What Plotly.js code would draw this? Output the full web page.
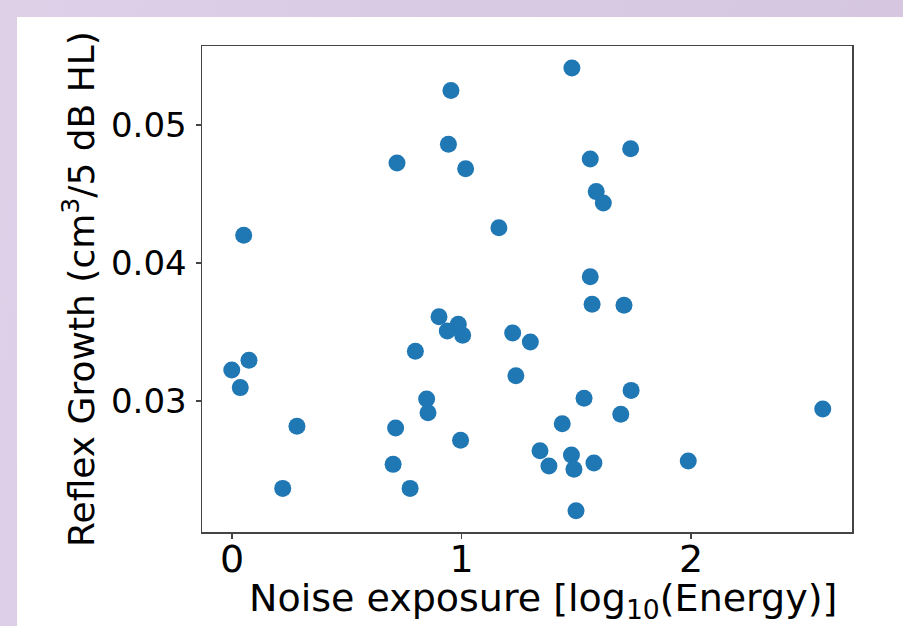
<!DOCTYPE html>
<html>
<head>
<meta charset="utf-8">
<script src="https://cdn.plot.ly/plotly-3.0.1.min.js"></script>
<style>
  html, body { margin: 0; padding: 0; width: 903px; height: 626px; overflow: hidden; }
  body { background: linear-gradient(100deg, #ddd0e7 0%, #d9cae3 50%, #d5c5df 100%); position: relative; }
  #plot { position: absolute; left: 17px; top: 17px; width: 886px; height: 609px; background: #ffffff; }
</style>
</head>
<body>
<div id="plot"></div>
<script>
// Noise exposure [log10(Energy)]
const noiseExposure = [
  0.954, 0.943, 0.719, 1.018, 1.163, 0.051,
  1.481, 1.561, 1.737, 1.587, 1.618, 1.561,
  0.902, 0.986, 0.938, 1.005, 1.223, 1.300, 0.799, 0.074, -0.001, 0.036,
  1.237, 0.848, 0.854, 0.283, 0.713, 0.996, 0.702, 0.221, 0.776,
  1.569, 1.708, 1.534, 1.739, 1.694, 1.439, 1.342, 1.479, 1.381, 1.490,
  1.577, 1.988, 2.574, 1.499
];
// Reflex Growth (cm^3 / 5 dB HL)
const reflexGrowth = [
  0.05249, 0.04860, 0.04725, 0.04683, 0.04256, 0.04201,
  0.05413, 0.04754, 0.04828, 0.04517, 0.04435, 0.03901,
  0.03611, 0.03556, 0.03507, 0.03476, 0.03493, 0.03428, 0.03360, 0.03295, 0.03225, 0.03097,
  0.03183, 0.03014, 0.02915, 0.02817, 0.02804, 0.02715, 0.02541, 0.02367, 0.02367,
  0.03701, 0.03693, 0.03020, 0.03077, 0.02904, 0.02836, 0.02640, 0.02609, 0.02529, 0.02505,
  0.02551, 0.02565, 0.02942, 0.02205
];
const xTickVals = [0, 1, 2];
const xTickText = ['0', '1', '2'];
const yTickVals = [0.03, 0.04, 0.05];
const yTickText = ['0.03', '0.04', '0.05'];
const xTitle = 'Noise exposure [log<sub>10</sub>(Energy)]';
const yTitle = 'Reflex Growth (cm<sup>3</sup>/5 dB HL)';

const trace = {
  x: noiseExposure,
  y: reflexGrowth,
  type: 'scatter',
  mode: 'markers',
  marker: { color: '#1f77b4', size: 17, line: { width: 0 } },
  hoverinfo: 'x+y'
};

const axisCommon = {
  showgrid: false,
  zeroline: false,
  showline: true,
  mirror: true,
  linecolor: '#444444',
  linewidth: 1.5,
  ticks: 'outside',
  ticklen: 5,
  tickwidth: 1.2,
  tickcolor: '#444444'
};

const layout = {
  width: 886,
  height: 609,
  paper_bgcolor: '#ffffff',
  plot_bgcolor: '#ffffff',
  margin: { l: 185, r: 51, t: 29, b: 94, pad: 0 },
  showlegend: false,
  font: { family: 'DejaVu Sans, sans-serif', color: '#000000' },
  xaxis: Object.assign({}, axisCommon, {
    range: [-0.1307, 2.7015],
    tickmode: 'array',
    tickvals: xTickVals,
    ticktext: xTickText,
    tickfont: { size: 38, family: 'DejaVu Sans' },
    ticklabelstandoff: -12
  }),
  yaxis: Object.assign({}, axisCommon, {
    range: [0.02051, 0.05572],
    tickmode: 'array',
    tickvals: yTickVals,
    ticktext: yTickText,
    tickfont: { size: 34, family: 'DejaVu Sans' },
    ticklabelstandoff: 2,
    title: { text: yTitle, font: { size: 36, family: 'DejaVu Sans' }, standoff: 5 }
  }),
  annotations: [{
    text: xTitle,
    xref: 'paper', yref: 'paper',
    x: 0.5246, y: -0.086,
    xanchor: 'center', yanchor: 'top',
    showarrow: false,
    font: { size: 38, family: 'DejaVu Sans', color: '#000000' }
  }]
};

Plotly.newPlot('plot', [trace], layout, { displayModeBar: false, staticPlot: true });
</script>
</body>
</html>
